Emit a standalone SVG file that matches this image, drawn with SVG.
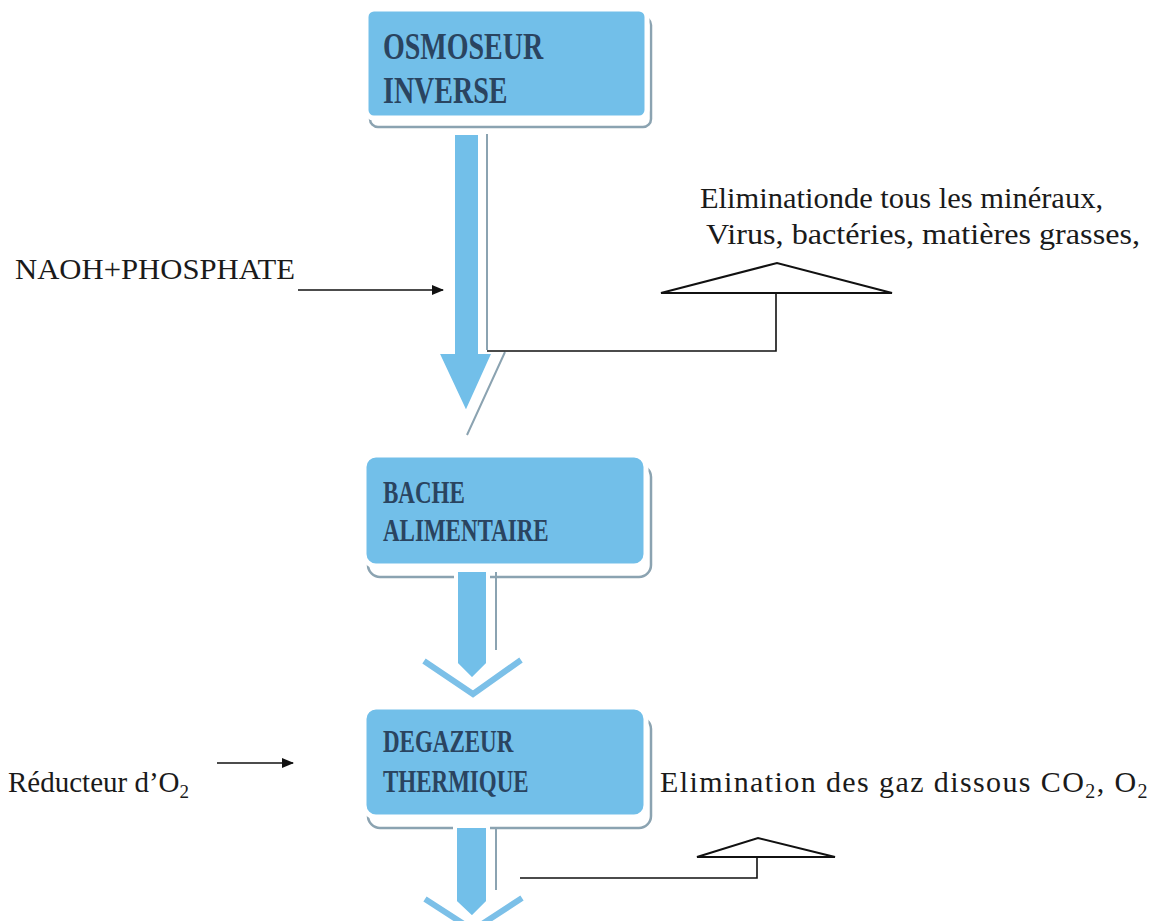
<svg xmlns="http://www.w3.org/2000/svg" width="1157" height="921" viewBox="0 0 1157 921">
<defs>
<style>
.box{fill:#72bfe9;stroke:#ffffff;stroke-width:5}
.shadow{fill:none;stroke:#8ba3b1;stroke-width:2.5}
.lbl{font-family:"Liberation Serif",serif;font-weight:bold;fill:#2a4460}
.txt{font-family:"Liberation Serif",serif;fill:#1a1a1a}
.shaft{fill:#72bfe9;stroke:#ffffff;stroke-width:4}
.chev{fill:none;stroke:#7cc0e8;stroke-width:6;stroke-linejoin:miter}
.sh{fill:none;stroke:#8ba3b1;stroke-width:2}
.ln{fill:none;stroke:#111;stroke-width:1.6}
.tri{fill:#ffffff;stroke:#111;stroke-width:2}
</style>
<marker id="ah" markerWidth="12" markerHeight="10" refX="11" refY="5" orient="auto" markerUnits="userSpaceOnUse">
<path d="M0,0 L12,5 L0,10 Z" fill="#111"/>
</marker>
</defs>
<rect width="1157" height="921" fill="#ffffff"/>

<g id="node-osmoseur">
<rect class="shadow" x="370" y="17" width="281" height="110" rx="8"/>
<rect class="box" x="366" y="9" width="281" height="109" rx="8"/>
<text class="lbl" font-size="28" transform="translate(383,59) scale(1,1.38)">OSMOSEUR</text>
<text class="lbl" font-size="28" transform="translate(383,103) scale(1,1.38)">INVERSE</text>
</g>

<g id="node-bache">
<rect class="shadow" x="368" y="465" width="283" height="112" rx="12"/>
<rect class="box" x="364" y="455" width="282" height="111" rx="12"/>
<text class="lbl" font-size="23" transform="translate(383,503) scale(1,1.4)">BACHE</text>
<text class="lbl" font-size="23" transform="translate(383,541) scale(1,1.4)">ALIMENTAIRE</text>
</g>

<g id="node-degazeur">
<rect class="shadow" x="368" y="717" width="283" height="111" rx="12"/>
<rect class="box" x="364" y="707" width="282" height="110" rx="12"/>
<text class="lbl" font-size="23" transform="translate(383,752) scale(1,1.4)">DEGAZEUR</text>
<text class="lbl" font-size="23" transform="translate(383,792) scale(1,1.4)">THERMIQUE</text>
</g>

<g id="connectors">
<path class="sh" d="M487,134 V350 M505,352 L467,435"/>
<path class="shaft" d="M453,133 H480 V352 H494 L466,414 L437,352 H453 Z"/>
<path class="sh" d="M496,572 V650"/>
<polygon points="423,660 522,660 473,695" fill="#ffffff"/>
<polyline class="chev" points="424,661 473,694 521,660"/>
<path class="shaft" d="M456,570 H488 V664 L472,680 L456,664 Z"/>
<path class="sh" d="M496,829 V890"/>
<polygon points="424,898 523,898 473,930" fill="#ffffff"/>
<polyline class="chev" points="425,899 473,930 522,898"/>
<path class="shaft" d="M455,826 H488 V902 L472,918 L455,902 Z"/>

<line class="ln" x1="298" y1="290" x2="443" y2="290" marker-end="url(#ah)"/>
<line class="ln" x1="217" y1="763" x2="293" y2="763" marker-end="url(#ah)"/>

<polyline class="ln" points="487,351 776,351 776,293"/>
<polygon class="tri" points="661,293 777,263 892,293"/>
<polyline class="ln" points="520,878 757,878 757,857"/>
<polygon class="tri" points="697,857 758,838 835,857"/>
</g>

<g id="labels">
<text class="txt" x="15" y="279" font-size="29" textLength="280" lengthAdjust="spacingAndGlyphs">NAOH+PHOSPHATE</text>
<text class="txt" x="700" y="208" font-size="30" textLength="403" lengthAdjust="spacingAndGlyphs">Eliminationde tous les minéraux,</text>
<text class="txt" x="706" y="244" font-size="30" textLength="434" lengthAdjust="spacingAndGlyphs">Virus, bactéries, matières grasses,</text>
<text class="txt" x="8" y="792" font-size="29">Réducteur d’O<tspan font-size="19" dy="6">2</tspan></text>
<text class="txt" x="660" y="792" font-size="30" letter-spacing="1.4">Elimination des gaz dissous CO<tspan font-size="20" dy="6">2</tspan><tspan dy="-6">, O</tspan><tspan font-size="20" dy="6">2</tspan></text>
</g>
</svg>
